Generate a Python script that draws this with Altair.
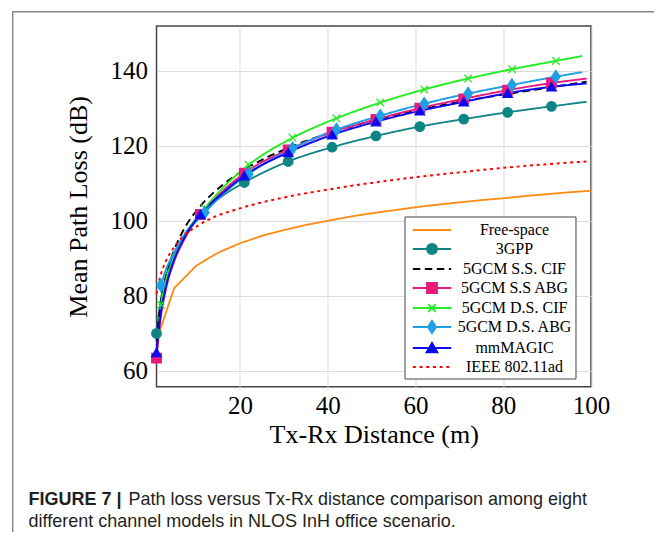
import altair as alt
import pandas as pd

# ---------------- data ----------------
series_names = ["Free-space", "3GPP", "5GCM S.S. CIF", "5GCM S.S ABG",
                "5GCM D.S. CIF", "5GCM D.S. ABG", "mmMAGIC", "IEEE 802.11ad"]

# Free-space
fs_d = [1, 5, 10, 15, 20, 25, 30, 35, 40, 45, 50, 55, 60, 65, 70, 75, 80, 85, 90, 95, 100]
fs_pl = [68.0, 82.0, 88.0, 91.5, 94.0, 96.0, 97.5, 98.9, 100.0, 101.1, 102.0,
         102.8, 103.6, 104.3, 104.9, 105.5, 106.0, 106.6, 107.1, 107.6, 108.0]

# series starting at 1 m
d_a = [1, 2, 3, 5, 7, 11, 16, 21, 31, 41, 51, 61, 71, 81, 91, 99]
gpp_pl = [70.0, 79.2, 84.5, 91.2, 95.6, 101.7, 106.6, 110.2, 115.8, 119.6, 122.6, 125.1, 127.1, 128.9, 130.5, 131.7]
sscif_pl = [68.0, 78.4, 84.5, 92.1, 97.2, 103.9, 109.5, 113.6, 119.4, 123.6, 126.9, 129.6, 131.9, 133.8, 135.6, 137.1]
ssabg_pl = [63.4, 74.5, 81.0, 89.1, 94.3, 101.7, 107.8, 112.7, 118.9, 123.6, 127.0, 130.0, 132.5, 134.8, 136.7, 137.9]
mm_pl = [64.9, 75.5, 81.7, 89.6, 94.7, 101.7, 107.3, 112.0, 118.2, 122.9, 126.4, 129.3, 131.7, 134.0, 135.7, 136.6]

# series starting at 2 m
d_b = [2, 3, 5, 7, 12, 17, 22, 32, 42, 52, 62, 72, 82, 92, 98]
dscif_pl = [77.6, 83.5, 90.0, 95.0, 103.3, 109.8, 114.9, 122.1, 127.3, 131.5, 135.0, 137.9, 140.4, 142.6, 143.9]
dsabg_pl = [82.8, 86.5, 91.5, 95.5, 102.2, 108.0, 112.5, 119.3, 124.3, 128.0, 131.2, 133.9, 136.2, 138.4, 139.6]

# IEEE 802.11ad
ieee_d = [1, 2, 3, 5, 7, 10, 13, 20, 30, 40, 50, 60, 70, 80, 90, 99]
ieee_pl = [80.5, 85.8, 88.9, 92.9, 95.8, 98.4, 100.4, 103.3, 106.2, 108.3, 110.1, 111.6, 112.9, 114.1, 115.1, 115.8]

# marker positions
marker_d_a = [1, 11, 21, 31, 41, 51, 61, 71, 81, 91]
marker_d_b = [2, 12, 22, 32, 42, 52, 62, 72, 82, 92]

x_ticks = [20, 40, 60, 80, 100]
y_ticks = [60, 80, 100, 120, 140]

caption_bold = "FIGURE 7 |"
caption_line1 = "Path loss versus Tx-Rx distance comparison among eight"
caption_line2 = "different channel models in NLOS InH office scenario."

# ---------------- styles ----------------
series_colors = ["#FF8A12", "#0E8484", "#000000", "#E8197F",
                 "#22EE22", "#1FA0E6", "#0B0BEE", "#FF0000"]
series_dash = [[1, 0], [1, 0], [7.5, 4.5], [1, 0], [1, 0], [1, 0], [1, 0], [3, 3.7]]
series_width = [1.8, 2, 2.6, 2, 2, 2, 2, 3]

X_PATH = "M-0.8,-0.8L0.8,0.8M-0.8,0.8L0.8,-0.8"
DIAMOND_PATH = "M0,-1.3L0.9,0L0,1.3L-0.9,0Z"
marker_series = ["3GPP", "5GCM S.S ABG", "5GCM D.S. CIF", "5GCM D.S. ABG", "mmMAGIC"]
marker_shapes = ["circle", "square", X_PATH, DIAMOND_PATH, "triangle-up"]

# legend symbol paths (line + marker)
LINE = "M-2.08,0L2.08,0"
legend_paths = {
    "3GPP": LINE + "M0.54,0A0.54,0.54 0 1,1 -0.54,0A0.54,0.54 0 1,1 0.54,0Z",
    "5GCM S.S ABG": LINE + "M-0.54,-0.54L0.54,-0.54L0.54,0.54L-0.54,0.54Z",
    "5GCM D.S. CIF": LINE + "M-0.41,-0.41L0.41,0.41M-0.41,0.41L0.41,-0.41",
    "5GCM D.S. ABG": LINE + "M0,-0.66L0.44,0L0,0.66L-0.44,0Z",
    "mmMAGIC": LINE + "M0,-0.54L0.58,0.47L-0.58,0.47Z",
}
shape_expr = ""
for k, v in legend_paths.items():
    shape_expr += f"datum.value === '{k}' ? '{v}' : "
shape_expr += f"'{LINE}'"
dash_expr = ("datum.value === '5GCM S.S. CIF' ? [7.5,4.5] : "
             "datum.value === 'IEEE 802.11ad' ? [3,3.7] : [1,0]")
width_expr = ("datum.value === '5GCM S.S. CIF' ? 2.6 : "
              "datum.value === 'IEEE 802.11ad' ? 3 : 2")

# ---------------- tables ----------------
rows = []
for name, ds, vals in [("Free-space", fs_d, fs_pl), ("3GPP", d_a, gpp_pl),
                       ("5GCM S.S. CIF", d_a, sscif_pl), ("5GCM S.S ABG", d_a, ssabg_pl),
                       ("5GCM D.S. CIF", d_b, dscif_pl), ("5GCM D.S. ABG", d_b, dsabg_pl),
                       ("mmMAGIC", d_a, mm_pl), ("IEEE 802.11ad", ieee_d, ieee_pl)]:
    for d, v in zip(ds, vals):
        rows.append({"series": name, "d": d, "pl": v})
df = pd.DataFrame(rows)

mk = df[((df["series"].isin(["3GPP", "5GCM S.S ABG", "mmMAGIC"])) & (df["d"].isin(marker_d_a))) |
        ((df["series"].isin(["5GCM D.S. CIF", "5GCM D.S. ABG"])) & (df["d"].isin(marker_d_b)))]

# ---------------- encodings ----------------
x_enc = alt.X("d:Q", scale=alt.Scale(domain=[1, 100], nice=False, zero=False),
              axis=alt.Axis(values=x_ticks, title="Tx-Rx Distance (m)", labelPadding=7,
                            titlePadding=3, labelFlush=False))
y_enc = alt.Y("pl:Q", scale=alt.Scale(domain=[55.8, 151.9], nice=False, zero=False),
              axis=alt.Axis(values=y_ticks, title="Mean Path Loss (dB)", labelPadding=9,
                            titlePadding=19, labelFlush=False))

legend = alt.Legend(
    title=None, orient="none", legendX=248, legendY=190.5,
    symbolSize=340, symbolOffset=14,
    symbolType={"expr": shape_expr},
    symbolDash={"expr": dash_expr},
    symbolStrokeWidth={"expr": width_expr},
    symbolFillColor={"expr": "scale('color', datum.value)"},
    symbolOpacity=1,
    labelOffset=72, labelAlign="center", labelFont="Liberation Serif",
    labelFontSize=16, labelColor="black", padding=3, rowPadding=0,
    strokeColor="#444444", fillColor="white", cornerRadius=0,
)

color_enc = alt.Color("series:N", scale=alt.Scale(domain=series_names, range=series_colors),
                      legend=legend)
dash_enc = alt.StrokeDash("series:N", scale=alt.Scale(domain=series_names, range=series_dash),
                          legend=None)
width_enc = alt.StrokeWidth("series:N", scale=alt.Scale(domain=series_names, range=series_width),
                            legend=None)

base = alt.Chart(df)

fs_line = base.transform_filter(alt.datum.series == "Free-space").mark_line(
    interpolate="linear", strokeCap="butt").encode(
    x=x_enc, y=y_enc, color=color_enc, strokeDash=dash_enc, strokeWidth=width_enc,
    order="d:Q")

other_lines = base.transform_filter(alt.datum.series != "Free-space").mark_line(
    interpolate="monotone", strokeCap="butt").encode(
    x=x_enc, y=y_enc, color=color_enc, strokeDash=dash_enc, strokeWidth=width_enc,
    order="d:Q")

points = alt.Chart(mk).mark_point(filled=True, size=90, opacity=1, strokeWidth=1.3).encode(
    x=x_enc, y=y_enc,
    fill=alt.Fill("series:N", scale=alt.Scale(domain=series_names, range=series_colors), legend=None),
    stroke=alt.Stroke("series:N", scale=alt.Scale(domain=series_names, range=series_colors), legend=None),
    shape=alt.Shape("series:N", scale=alt.Scale(domain=marker_series, range=marker_shapes), legend=None),
)

# outer figure frame and caption (page decoration)
frame = alt.Chart(pd.DataFrame({"k": [0]})).mark_rect(
    fillOpacity=0, stroke="#8a8a8a", strokeWidth=1.5).encode(
    x=alt.value(-143.8), x2=alt.value(520), y=alt.value(-14.2), y2=alt.value(600))

cap_bold = alt.Chart(pd.DataFrame({"t": [caption_bold]})).mark_text(
    align="left", baseline="alphabetic", font="Liberation Sans", fontSize=18,
    fontWeight="bold", color="#231F20").encode(
    x=alt.value(-128), y=alt.value(479.5), text="t:N")
cap_l1 = alt.Chart(pd.DataFrame({"t": [caption_line1]})).mark_text(
    align="left", baseline="alphabetic", font="Liberation Sans", fontSize=18,
    color="#231F20").encode(
    x=alt.value(-28), y=alt.value(479.5), text="t:N")
cap_l2 = alt.Chart(pd.DataFrame({"t": [caption_line2]})).mark_text(
    align="left", baseline="alphabetic", font="Liberation Sans", fontSize=18,
    color="#231F20").encode(
    x=alt.value(-128), y=alt.value(501), text="t:N")

chart = alt.layer(frame, fs_line, other_lines, points, cap_bold, cap_l1, cap_l2).properties(
    width=434.5, height=360.7,
    autosize=alt.AutoSizeParams(type="none"),
    padding={"left": 148.5, "top": 18, "right": 63, "bottom": 145},
    background="white",
).configure_view(
    stroke="#444444", strokeWidth=1.5
).configure_axis(
    grid=True, gridColor="#DCDCDC", gridWidth=1, domain=False, ticks=False,
    labelFont="Liberation Serif", labelFontSize=25, labelColor="black",
    titleFont="Liberation Serif", titleFontSize=26, titleFontWeight="normal",
    titleColor="black",
).resolve_scale(shape="independent")

chart.save("out.html", embed_options={"renderer": "svg", "actions": False})
